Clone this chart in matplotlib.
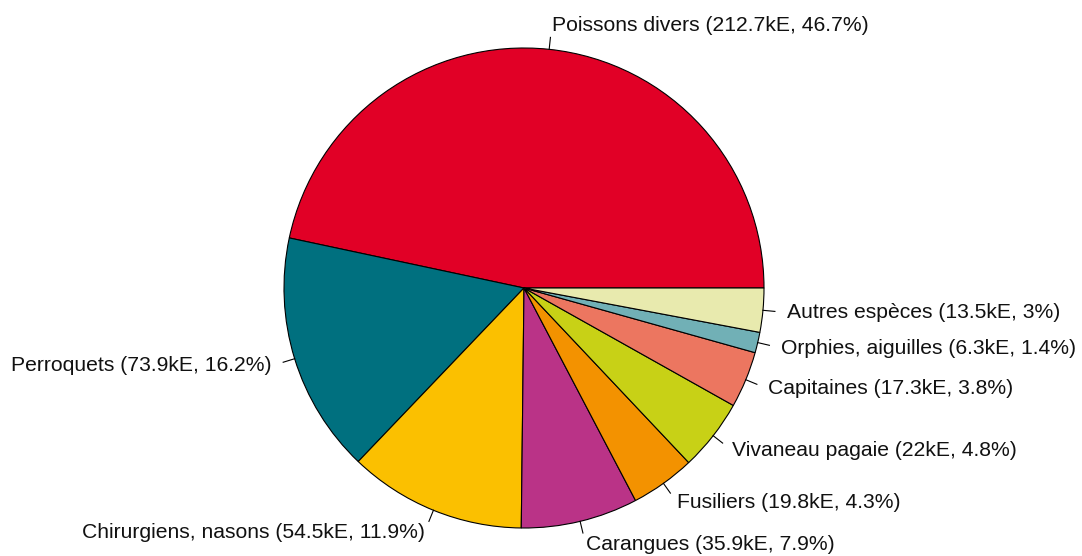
import numpy as np
import matplotlib.pyplot as plt

plt.rcParams['font.family'] = ['Liberation Sans', 'DejaVu Sans']

names = ["Poissons divers", "Perroquets", "Chirurgiens, nasons", "Carangues",
         "Fusiliers", "Vivaneau pagaie", "Capitaines", "Orphies, aiguilles",
         "Autres espèces"]
values = [212.7, 73.9, 54.5, 35.9, 19.8, 22.0, 17.3, 6.3, 13.5]
value_text = ["212.7", "73.9", "54.5", "35.9", "19.8", "22", "17.3", "6.3", "13.5"]
pct_text = ["46.7", "16.2", "11.9", "7.9", "4.3", "4.8", "3.8", "1.4", "3"]
colors = ["#E10026", "#00707F", "#FBC000", "#BA3387", "#F39200",
          "#C8D116", "#EC7660", "#71B0B6", "#E8EAAE"]

W, H = 1082, 556
cx, cy, r = 524, 288, 240

fig = plt.figure(figsize=(W / 100, H / 100), dpi=100)
ax = fig.add_axes([0, 0, 1, 1])
ax.pie(values, colors=colors, startangle=0, counterclock=True, radius=1,
       wedgeprops=dict(edgecolor="black", linewidth=0.8))
ax.set_xlim(-cx / r, (W - cx) / r)
ax.set_ylim(-(H - cy) / r, cy / r)
ax.set_aspect("equal")
ax.axis("off")

total = sum(values)
cum = np.cumsum([0] + values)
for i, name in enumerate(names):
    mid = np.pi * (cum[i] + cum[i + 1]) / total
    c, s = np.cos(mid), np.sin(mid)
    ax.plot([c, 1.05 * c], [s, 1.05 * s], color="black", lw=0.8)
    ax.text(1.1 * c, 1.1 * s, f"{name} ({value_text[i]}kE, {pct_text[i]}%)",
            ha="left" if c > 0 else "right", va="center", fontsize=15.2,
            color="#111111")

fig.savefig("out.png", dpi=100)
